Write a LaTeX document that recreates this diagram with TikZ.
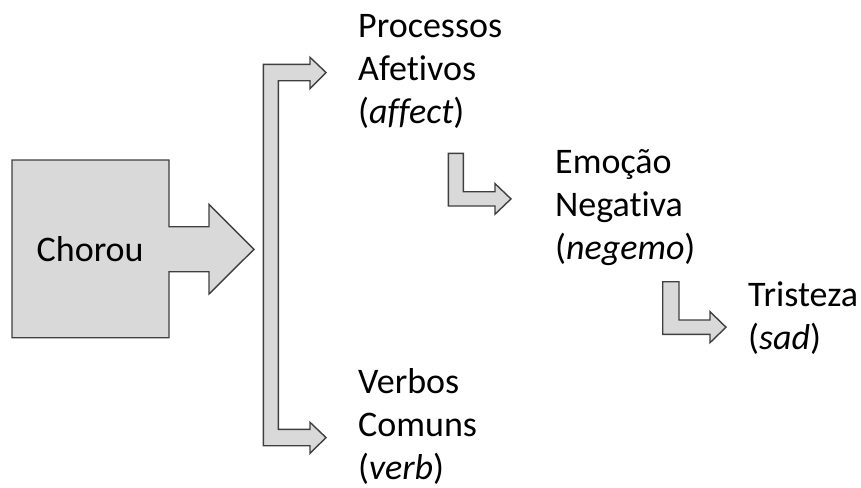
\documentclass[tikz,border=0pt]{standalone}
\usepackage{fontspec}
\setmainfont{Carlito}[Ligatures=NoCommon]
\begin{document}
\begin{tikzpicture}[x=1pt,y=-1pt,
  blockarrow/.style={fill=boxgray,draw=edgegray,line width=1.4pt,line join=miter},
  lbl/.style={anchor=base west,inner sep=0pt,align=left,font=\fontsize{36}{43.3}\selectfont}]
\definecolor{boxgray}{HTML}{D9D9D9}
\definecolor{edgegray}{HTML}{3F3F3F}
\useasboundingbox (0,0) rectangle (861,487);
% Chorou box with arrow
\draw[blockarrow] (12,160) -- (169,160) -- (169,226.7) -- (209,226.7) -- (209,204.3) -- (254,249.3) -- (209,294) -- (209,271.7) -- (169,271.7) -- (169,337.7) -- (12,337.7) -- cycle;
\node[lbl] (chorou) at (36.5,261.7) {Chorou};
% bracket arrow
\draw[blockarrow] (263.3,445.7) -- (263.3,64.3) -- (310,64.3) -- (310,57.3) -- (326,72.5) -- (310,88.7) -- (310,80.7) -- (278.3,80.7) -- (278.3,429.3) -- (310,429.3) -- (310,422.3) -- (326,437.6) -- (310,453.3) -- (310,445.7) -- cycle;
% L arrows
\draw[blockarrow] (448.3,153.3) -- (463.3,153.3) -- (463.3,191.7) -- (495,191.7) -- (495,183.6) -- (511,198.9) -- (495,214.2) -- (495,206) -- (448.3,206) -- cycle;
\draw[blockarrow] (662.7,281.7) -- (679,281.7) -- (679,320) -- (710,320) -- (710,311.7) -- (726,327.2) -- (710,342.7) -- (710,334.3) -- (662.7,334.3) -- cycle;
% labels (anchored at the baseline of their last line)
\node[lbl] (afetivos) at (358,123.9) {Processos\\Afetivos\\(\textit{affect})};
\node[lbl] (negativa) at (555,259.9) {Emoção\\Negativa\\(\textit{negemo})};
\node[lbl] (tristeza) at (748,349.3) {Tristeza\\(\textit{sad})};
\node[lbl] (verbos) at (358,479.9) {Verbos\\Comuns\\(\textit{verb})};
\end{tikzpicture}
\end{document}
